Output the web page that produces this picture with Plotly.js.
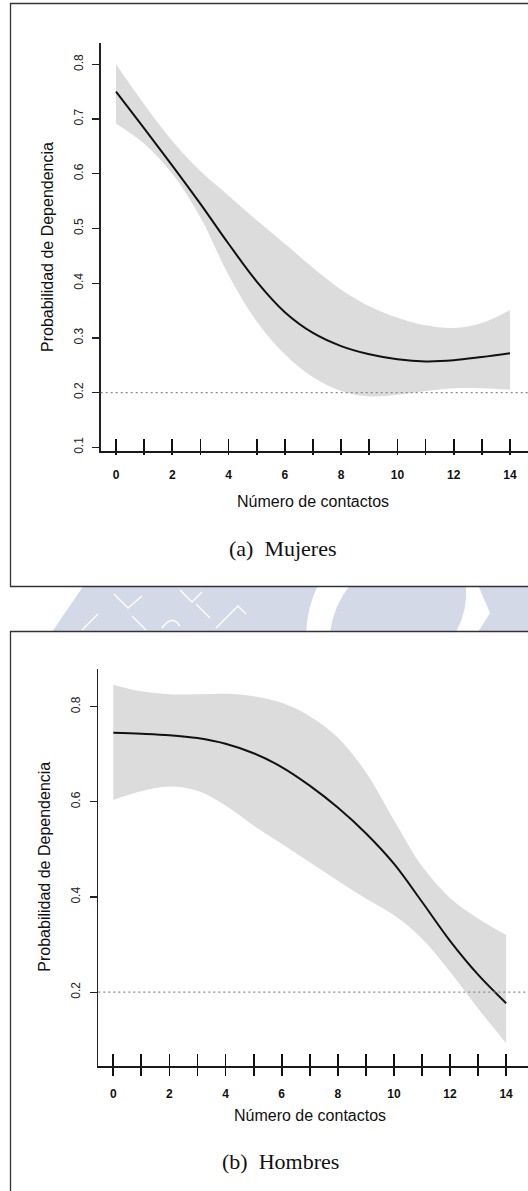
<!DOCTYPE html>
<html>
<head>
<meta charset="utf-8">
<script src="https://cdn.plot.ly/plotly-3.0.1.min.js"></script>
<style>html,body{margin:0;padding:0;background:#fff;}#chart{width:528px;height:1191px;}</style>
</head>
<body>
<div id="chart"></div>
<script>
// ---- data ----
const contactos = [0,1,2,3,4,5,6,7,8,9,10,11,12,13,14];
const mujeresFit   = [0.750,0.683,0.615,0.545,0.472,0.403,0.347,0.309,0.285,0.270,0.261,0.257,0.259,0.265,0.272];
const mujeresLower = [0.692,0.655,0.600,0.520,0.415,0.330,0.270,0.228,0.203,0.193,0.196,0.203,0.208,0.208,0.205];
const mujeresUpper = [0.800,0.727,0.660,0.605,0.560,0.515,0.472,0.428,0.388,0.358,0.337,0.323,0.318,0.327,0.351];
const hombresFit   = [0.745,0.743,0.740,0.734,0.722,0.702,0.673,0.634,0.588,0.534,0.470,0.390,0.308,0.237,0.177];
const hombresLower = [0.604,0.622,0.632,0.623,0.592,0.550,0.512,0.473,0.434,0.397,0.362,0.313,0.243,0.166,0.093];
const hombresUpper = [0.846,0.832,0.826,0.826,0.827,0.822,0.808,0.780,0.735,0.662,0.562,0.465,0.398,0.355,0.320];
const umbral = [0.2];
const xTickVals = [0,1,2,3,4,5,6,7,8,9,10,11,12,13,14];
const xTickText = ['0','','2','','4','','6','','8','','10','','12','','14'];
const yTickValsA = [0.1,0.2,0.3,0.4,0.5,0.6,0.7,0.8];
const yTickTextA = ['0.1','0.2','0.3','0.4','0.5','0.6','0.7','0.8'];
const yTickValsB = [0.2,0.4,0.6,0.8];
const yTickTextB = ['0.2','0.4','0.6','0.8'];
const xTitle = 'Número de contactos';
const yTitle = 'Probabilidad de Dependencia';
const captions = ['(a)\u2002Mujeres', '(b)\u2002Hombres'];

// ---- helpers (pixel -> paper) ----
const W = 528, H = 1191;
const px = v => v / W;
const py = v => 1 - v / H;

const BAND = '#dcdcdc';
const sans = 'Liberation Sans, Arial, Helvetica, sans-serif';

function bandTraces(lower, upper, fit, xa, ya) {
  return [
    {x: contactos, y: lower, xaxis: xa, yaxis: ya, mode: 'lines', line: {width: 0, shape: 'spline', color: BAND}, hoverinfo: 'skip', showlegend: false},
    {x: contactos, y: upper, xaxis: xa, yaxis: ya, mode: 'lines', fill: 'tonexty', fillcolor: BAND, line: {width: 0, shape: 'spline', color: BAND}, hoverinfo: 'skip', showlegend: false},
    {x: contactos, y: fit, xaxis: xa, yaxis: ya, mode: 'lines', line: {width: 2, shape: 'spline', color: '#111'}, showlegend: false}
  ];
}

const data = [
  ...bandTraces(mujeresLower, mujeresUpper, mujeresFit, 'x', 'y'),
  ...bandTraces(hombresLower, hombresUpper, hombresFit, 'x2', 'y2')
];

function xAxis(domain, range, anchor, standoff, outLen) {
  return {
    domain: domain, range: range, anchor: anchor,
    showline: true, linecolor: '#1a1a1a', linewidth: 1.6,
    ticks: 'inside', ticklen: 12, tickwidth: 1.8, tickcolor: '#111',
    tickmode: 'array', tickvals: xTickVals, ticktext: xTickText,
    minor: {ticks: 'outside', ticklen: outLen, tickwidth: 1.8, tickcolor: '#111',
            tickmode: 'array', tickvals: xTickVals.map(v => v + 1e-4), showgrid: false},
    tickfont: {family: sans, size: 12, color: '#111', weight: 'bold'},
    ticklabelstandoff: standoff,
    showgrid: false, zeroline: false, fixedrange: true
  };
}
function yAxis(domain, range, anchor, vals, text) {
  return {
    domain: domain, range: range, anchor: anchor,
    showline: true, linecolor: '#222', linewidth: 1.3,
    ticks: 'outside', ticklen: 7, tickwidth: 1.3, tickcolor: '#222',
    tickmode: 'array', tickvals: vals, ticktext: text, tickangle: -90,
    tickfont: {family: sans, size: 12, color: '#222'},
    ticklabelstandoff: 5,
    showgrid: false, zeroline: false, fixedrange: true
  };
}

const rangeXA = [-0.544, 14.64], rangeYA = [0.0932, 0.839];
const rangeXB = [-0.535, 14.78], rangeYB = [0.045, 0.879];

const dotLine = (xr, yr) => ({
  type: 'line', xref: xr + ' domain', yref: yr, x0: 0, x1: 1, y0: umbral[0], y1: umbral[0],
  line: {color: '#8a8a8a', width: 1.2, dash: '2px,3px'}, layer: 'above'
});

const WM = '#d4d9e8';
const shapes = [
  // watermark band between the panels
  {type: 'path', xref: 'paper', yref: 'paper', layer: 'below', fillcolor: WM, line: {width: 0},
   path: `M ${px(84)} ${py(585)} L ${px(530)} ${py(585)} L ${px(530)} ${py(632)} L ${px(52)} ${py(632)} Z`},
  {type: 'path', xref: 'paper', yref: 'paper', layer: 'below', fillcolor: '#ffffff', line: {width: 0},
   path: `M ${px(306)} ${py(632)} Q ${px(308)} ${py(605)} ${px(318)} ${py(585)} L ${px(350)} ${py(585)} Q ${px(334)} ${py(605)} ${px(330)} ${py(632)} Z`},
  {type: 'path', xref: 'paper', yref: 'paper', layer: 'below', fillcolor: '#ffffff', line: {width: 0},
   path: `M ${px(456)} ${py(632)} Q ${px(468)} ${py(610)} ${px(466)} ${py(585)} L ${px(478)} ${py(585)} L ${px(490)} ${py(613)} L ${px(478)} ${py(632)} Z`},
  // white lettering strokes of the watermark
  {type: 'path', xref: 'paper', yref: 'paper', layer: 'below', line: {color: '#ffffff', width: 1.4},
   path: `M ${px(82)} ${py(630)} L ${px(98)} ${py(614)} M ${px(114)} ${py(594)} L ${px(128)} ${py(608)} L ${px(142)} ${py(596)} M ${px(132)} ${py(616)} L ${px(146)} ${py(630)} M ${px(180)} ${py(590)} L ${px(192)} ${py(602)} L ${px(202)} ${py(592)} M ${px(196)} ${py(604)} L ${px(210)} ${py(618)} M ${px(162)} ${py(628)} Q ${px(172)} ${py(614)} ${px(180)} ${py(626)} M ${px(216)} ${py(628)} L ${px(238)} ${py(606)} L ${px(246)} ${py(614)}`},
  // panel frames
  {type: 'rect', xref: 'paper', yref: 'paper', layer: 'below', fillcolor: '#ffffff',
   x0: px(10.5), x1: px(540), y0: py(586.5), y1: py(3.5), line: {color: '#333', width: 1.3}},
  {type: 'rect', xref: 'paper', yref: 'paper', layer: 'below', fillcolor: '#ffffff',
   x0: px(10.5), x1: px(540), y0: py(1200), y1: py(631.5), line: {color: '#333', width: 1.3}},
  dotLine('x', 'y'),
  dotLine('x2', 'y2')
];

const ann = (text, x, y, size, family, angle) => ({
  text: text, xref: 'paper', yref: 'paper', x: x, y: y, xanchor: 'center', yanchor: 'middle',
  showarrow: false, textangle: angle || 0, font: {family: family, size: size, color: '#111'}
});
const serif = 'Liberation Serif, Times New Roman, serif';

const layout = {
  width: W, height: H,
  margin: {l: 0, r: 0, t: 0, b: 0, pad: 0},
  paper_bgcolor: '#ffffff', plot_bgcolor: 'rgba(0,0,0,0)',
  showlegend: false,
  xaxis: xAxis([px(100.7), 1], rangeXA, 'y', 12, 2),
  yaxis: yAxis([py(451), py(43)], rangeYA, 'x', yTickValsA, yTickTextA),
  xaxis2: xAxis([px(98.3), 1], rangeXB, 'y2', 16, 8),
  yaxis2: yAxis([py(1066), py(669)], rangeYB, 'x2', yTickValsB, yTickTextB),
  shapes: shapes,
  annotations: [
    ann(yTitle, px(48), py(247), 16, sans, -90),
    ann(xTitle, px(313), py(501.7), 16, sans),
    ann(captions[0], px(283), py(548), 22, serif),
    ann(yTitle, px(45), py(866.7), 16, sans, -90),
    ann(xTitle, px(310), py(1115.7), 16, sans),
    ann(captions[1], px(280), py(1161.7), 22, serif)
  ]
};

Plotly.newPlot('chart', data, layout, {displayModeBar: false, staticPlot: true});
</script>
</body>
</html>
